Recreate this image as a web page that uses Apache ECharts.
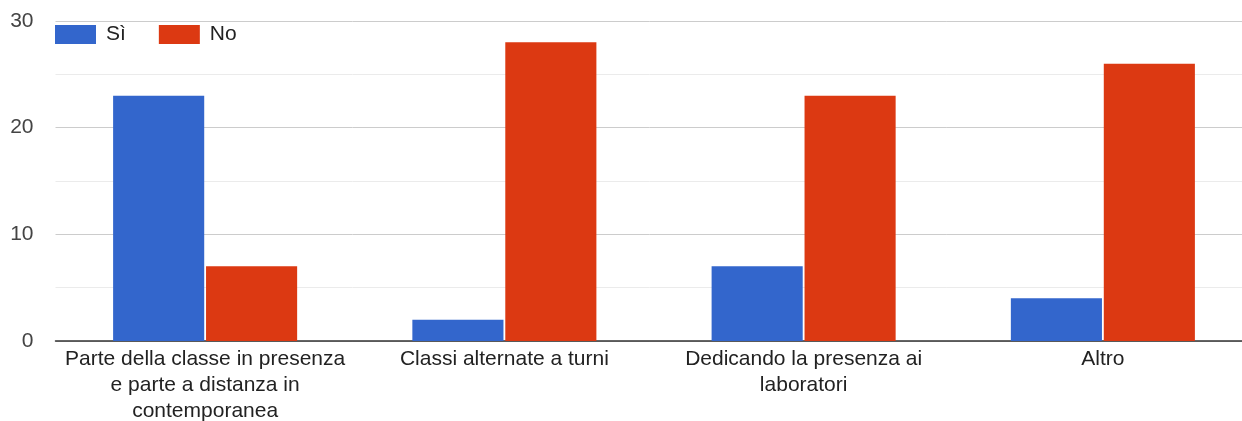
<!DOCTYPE html>
<html><head><meta charset="utf-8">
<script src="https://cdn.jsdelivr.net/npm/echarts@6/dist/echarts.min.js"></script>
<style>html,body{margin:0;padding:0;background:#fff}#c{width:1242px;height:421px}</style>
</head><body><div id="c"></div>
<script>
const categories = ["Parte della classe in presenza\ne parte a distanza in\ncontemporanea", "Classi alternate a turni", "Dedicando la presenza ai\nlaboratori", "Altro"];
const siValues = [23, 2, 7, 4];
const noValues = [7, 28, 23, 26];
const seriesNames = ["Sì", "No"];
const chart = echarts.init(document.getElementById('c'));
chart.setOption({
  animation: false,
  textStyle: {fontFamily: 'Arial, "Liberation Sans", sans-serif'},
  grid: {left: 55.5, width: 1197, top: 21, height: 320, outerBoundsMode: 'none', containLabel: false},
  legend: {
    left: 55, top: 24, padding: 0, itemWidth: 41, itemHeight: 19, itemGap: 33,
    icon: 'rect',
    textStyle: {fontSize: 21, color: '#222', padding: [0,0,0,5]},
    data: seriesNames
  },
  xAxis: {
    type: 'category', data: categories,
    axisLine: {lineStyle: {color: '#333', width: 1.5}},
    axisTick: {show: false},
    axisLabel: {fontSize: 21, color: '#222', lineHeight: 26, margin: 5, interval: 0}
  },
  yAxis: {
    type: 'value', min: 0, max: 30, interval: 10,
    axisLine: {show: false}, axisTick: {show: false},
    axisLabel: {fontSize: 21, color: '#444', margin: 22},
    splitLine: {lineStyle: {color: '#cccccc'}},
    minorTick: {show: false, splitNumber: 2},
    minorSplitLine: {show: true, lineStyle: {color: '#ebebeb'}}
  },
  series: [
    {name: seriesNames[0], type: 'bar', data: siValues, itemStyle: {color: '#3366cc'}, barGap: '2%', barCategoryGap: '38.5%'},
    {name: seriesNames[1], type: 'bar', data: noValues, itemStyle: {color: '#dc3912'}}
  ]
});
</script></body></html>
